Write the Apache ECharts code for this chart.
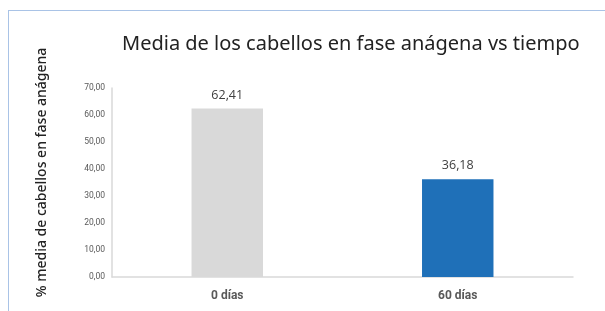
<!DOCTYPE html>
<html>
<head>
<meta charset="utf-8">
<script src="https://cdn.jsdelivr.net/npm/echarts@6/dist/echarts.min.js"></script>
<style>
  html, body { margin: 0; padding: 0; background: #fff; }
  #frame { position: absolute; left: 8px; top: 10px; width: 597px; height: 301px;
           border-left: 1px solid #a9c3e6; border-top: 1px solid #a9c3e6; }
  #main { position: absolute; left: 0; top: 0; width: 605px; height: 311px; }
</style>
</head>
<body>
<div id="frame"></div>
<div id="main"></div>
<script>
let categories = ["0 días", "60 días"];
let values = [62.41, 36.18];
let barColors = ["#d9d9d9", "#1f70b8"];

let fmt = (v) => v.toFixed(2).replace(".", ",");

let chartDom = document.getElementById("main");
let myChart = echarts.init(chartDom);
let option;

option = {
    animation: false,
    title: {
        text: "Media de los cabellos en fase anágena vs tiempo",
        left: 117,
        top: 29,
        textStyle: {
            fontFamily: "Noto Sans",
            fontWeight: "normal",
            fontSize: 20,
            color: "#222",
        },
    },
    grid: {
        left: 112,
        right: 32,
        top: 88,
        bottom: 34,
    },
    xAxis: {
        type: "category",
        data: categories,
        axisLine: { lineStyle: { color: "#d9d9d9", width: 1.5 } },
        axisTick: { show: false },
        axisLabel: {
            margin: 13,
            fontFamily: "Roboto",
            fontWeight: "bold",
            fontSize: 12,
            color: "#595959",
        },
    },
    yAxis: {
        type: "value",
        min: 0,
        max: 70,
        interval: 10,
        name: "% media de cabellos en fase anágena",
        nameLocation: "middle",
        nameGap: 63,
        nameTextStyle: {
            fontFamily: "Noto Sans",
            fontWeight: 500,
            fontSize: 14,
            color: "#222",
            padding: [0, 0, 0, 20],
        },
        axisLine: { show: true, lineStyle: { color: "#d9d9d9", width: 1.5 } },
        axisTick: { show: false },
        splitLine: { show: false },
        axisLabel: {
            margin: 7,
            fontFamily: "Roboto",
            fontSize: 8.5,
            color: "#595959",
            formatter: fmt,
        },
    },
    series: [
        {
            type: "bar",
            barWidth: "31%",
            data: values.map((v, i) => ({ value: v, itemStyle: { color: barColors[i] } })),
            label: {
                show: true,
                position: "top",
                distance: 7,
                fontFamily: "Open Sans",
                fontSize: 12.5,
                color: "#404040",
                formatter: (p) => fmt(p.value),
            },
        },
    ],
};

myChart.setOption(option);
</script>
</body>
</html>
